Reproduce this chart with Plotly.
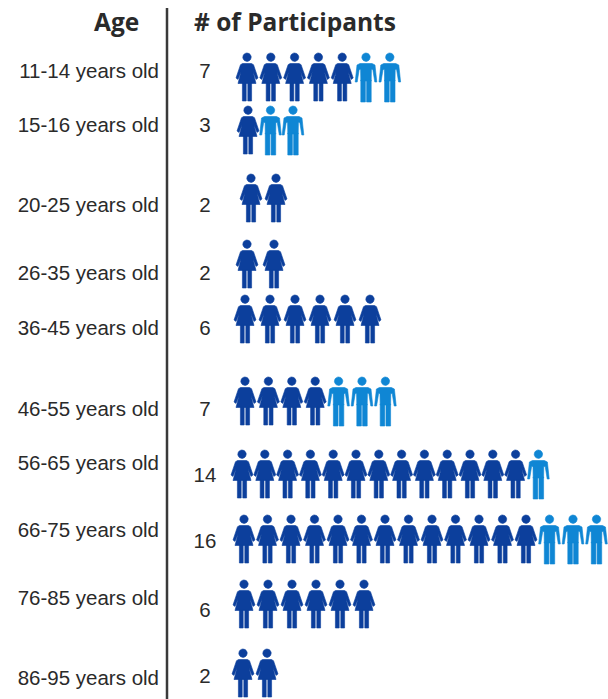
import numpy as np
import plotly.graph_objects as go

# ---- data ----
age_groups = ["11-14 years old", "15-16 years old", "20-25 years old", "26-35 years old",
              "36-45 years old", "46-55 years old", "56-65 years old", "66-75 years old",
              "76-85 years old", "86-95 years old"]
participants = [7, 3, 2, 2, 6, 7, 14, 16, 6, 2]
women = [5, 1, 2, 2, 6, 4, 13, 13, 6, 2]
men = [2, 2, 0, 0, 0, 3, 1, 3, 0, 0]

# ---- layout of the graphic (separate from the data) ----
W, H = 608, 699
label_y = [73, 127, 207, 275, 330, 411, 465, 532, 600, 680]
count_y = [73, 127, 207, 275, 330, 411, 477, 543, 612, 678]
icon_top = [53, 106, 174, 240, 295, 377, 450, 515, 580, 649]
first_x = [247, 248, 251, 247, 245, 245, 242, 244, 244, 243]
pitch = [23.8, 22.5, 25, 27, 25, 23.4, 22.8, 23.5, 24, 24]
DARK, LIGHT = "#0c3f9c", "#0f86d4"
TEXT = "#2a2a2a"


def head():
    t = np.linspace(0, 2 * np.pi, 25)
    return list(4.2 * np.cos(t)), list(4.2 + 4.2 * np.sin(t))


FEMALE = [
    [(-4.5, 10.5), (4.5, 10.5), (6.5, 11.7), (11, 25), (9, 26.4), (6, 19), (9, 30.5),
     (-9, 30.5), (-6, 19), (-9, 26.4), (-11, 25), (-6.5, 11.7)],
    [(-4.6, 30), (-0.8, 30), (-0.8, 48), (-4.6, 48)],
    [(0.8, 30), (4.6, 30), (4.6, 48), (0.8, 48)],
]
MALE = [
    [(-6, 10.5), (6, 10.5), (9, 12), (10.8, 29), (8.8, 29), (6.8, 16.5), (5.4, 16.5), (5.2, 28),
     (-5.2, 28), (-5.4, 16.5), (-6.8, 16.5), (-8.8, 29), (-10.8, 29), (-9, 12)],
    [(-5.2, 27), (-0.6, 27), (-0.6, 49), (-5.2, 49)],
    [(0.6, 27), (5.2, 27), (5.2, 49), (0.6, 49)],
]


def add_icon(xs, ys, template, cx, top):
    hx, hy = head()
    xs += [cx + v for v in hx] + [None]
    ys += [top + v for v in hy] + [None]
    for poly in template:
        xs += [cx + p[0] for p in poly] + [cx + poly[0][0], None]
        ys += [top + p[1] for p in poly] + [top + poly[0][1], None]


fx, fy, mx, my = [], [], [], []
for r in range(len(age_groups)):
    for i in range(women[r] + men[r]):
        cx = first_x[r] + i * pitch[r]
        if i < women[r]:
            add_icon(fx, fy, FEMALE, cx, icon_top[r])
        else:
            add_icon(mx, my, MALE, cx, icon_top[r])

fig = go.Figure()
fig.add_trace(go.Scatter(x=fx, y=fy, mode="lines", fill="toself", fillcolor=DARK,
                         line=dict(width=0.6, color=DARK), name="Women", hoverinfo="skip"))
fig.add_trace(go.Scatter(x=mx, y=my, mode="lines", fill="toself", fillcolor=LIGHT,
                         line=dict(width=0.6, color=LIGHT), name="Men", hoverinfo="skip"))
fig.add_trace(go.Scatter(x=[159] * len(age_groups), y=label_y, mode="text", text=age_groups,
                         textposition="middle left",
                         textfont=dict(family="Liberation Sans", size=20.5, color=TEXT),
                         hoverinfo="skip"))
fig.add_trace(go.Scatter(x=[205] * len(participants), y=count_y, mode="text",
                         text=[str(v) for v in participants], textposition="middle center",
                         textfont=dict(family="Liberation Sans", size=20.5, color=TEXT),
                         hoverinfo="skip"))
fig.add_trace(go.Scatter(x=[94, 194], y=[25, 25], mode="text",
                         text=["<b>Age</b>", "<b># of Participants</b>"],
                         textposition="middle right",
                         textfont=dict(family="Open Sans", size=24.5, color=TEXT), hoverinfo="skip"))

fig.add_shape(type="line", x0=167, x1=167, y0=8, y1=699, line=dict(color="#3a3a3a", width=2.5))

fig.update_layout(
    width=W, height=H, autosize=False, showlegend=False,
    margin=dict(l=0, r=0, t=0, b=0),
    paper_bgcolor="white", plot_bgcolor="white",
    xaxis=dict(range=[0, W], visible=False, fixedrange=True),
    yaxis=dict(range=[H, 0], visible=False, fixedrange=True),
)
fig.write_html("out.html", config=dict(displayModeBar=False),
               post_script="document.body.style.margin='0';")
